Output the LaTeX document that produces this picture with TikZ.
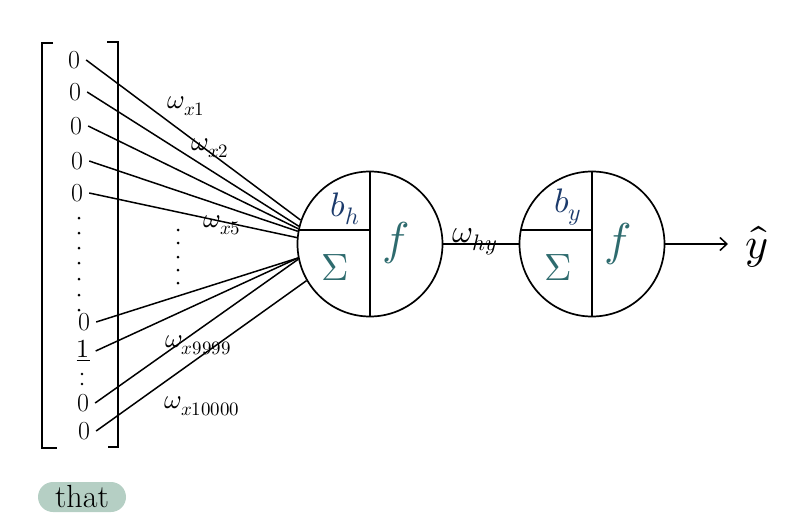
\documentclass[tikz,border=0pt]{standalone}
\usepackage{unicode-math}
\usetikzlibrary{arrows.meta,calc}
\definecolor{navy}{HTML}{1B3A6B}
\definecolor{teal2}{HTML}{2E6B6E}
\definecolor{pill}{HTML}{B5CFC4}
\tikzset{
  entry/.style={font=\fontsize{26}{26}\selectfont, inner xsep=6pt, inner ysep=0pt},
  wlab/.style={font=\fontsize{27}{27}\selectfont, inner sep=0pt},
  neuron/.style={circle, draw, line width=1.7pt, minimum size=145pt, inner sep=0pt},
  wire/.style={line width=1.5pt},
  bias/.style={text=navy, font=\fontsize{34}{34}\selectfont, inner sep=0pt},
  func/.style={text=teal2, font=\fontsize{46}{46}\selectfont, inner sep=0pt},
  sigm/.style={text=teal2, font=\fontsize{38}{38}\selectfont, inner sep=0pt},
  dotmark/.style={fill=black, circle, inner sep=0pt, minimum size=3pt}
}
\begin{document}
\begin{tikzpicture}[x=1pt,y=-1pt]
\useasboundingbox (0,0) rectangle (800,527);
% brackets
\draw[line width=1.7pt] (53,43) -- (42,43) -- (42,448) -- (57,448);
\draw[line width=1.7pt] (107,42) -- (118,42) -- (118,447) -- (108,447);
% entries
\node[entry] (e1) at (74,60) {0};
\node[entry] (e2) at (75,92) {0};
\node[entry] (e3) at (76,126) {0};
\node[entry] (e4) at (77,161) {0};
\node[entry] (e5) at (77,193) {0};
\node[entry] (e6) at (84,322) {0};
\node[entry] (e7) at (83,351) {$\underline{1}$};
\node[entry] (e8) at (83,403) {0};
\node[entry] (e9) at (84,431) {0};
% vertical dots
\foreach \y [count=\i] in {218,233,248,263,279,295,310}
  \node[dotmark] (vd\i) at (79,\y) {};
\node[dotmark, minimum size=2.6pt] (c1) at (82,374) {};
\node[dotmark, minimum size=2.6pt] (c2) at (82,384) {};
\foreach \y [count=\i] in {230,243,257,270,283}
  \node[dotmark] (md\i) at (178,\y) {};
% neurons
\node[neuron] (h) at (370,244) {};
\node[neuron] (o) at (592,244) {};
\draw[line width=1.7pt] (h.north) -- (h.south);
\draw[line width=1.7pt] (h.169) -- (h.169 -| h.north);
\draw[line width=1.7pt] (o.north) -- (o.south);
\draw[line width=1.7pt] (o.169) -- (o.169 -| o.north);
\node[bias] (bh) at (345,209) {$b_h$};
\node[sigm] (sh) at (335,268) {$\Sigma$};
\node[func] (fh) at (396,243) {$f$};
\node[bias] (by) at (568,207) {$b_y$};
\node[sigm] (sy) at (558,268) {$\Sigma$};
\node[func] (fy) at (618,244) {$f$};
% input wires
\draw[wire] (e1.east) -- (h.161);
\draw[wire] (e2.east) -- (h.166);
\draw[wire] (e3.east) -- (h.168);
\draw[wire] (e4.east) -- (h.170);
\draw[wire] (e5.east) -- (h.175);
\draw[wire] (e6.east) -- (h.191);
\draw[wire] (e7.east) -- (h.191);
\draw[wire] (e8.east) -- (h.192);
\draw[wire] (e9.east) -- (h.210);
% weight labels
\node[wlab] (w1) at (186,106) {$\omega_{x1}$};
\node[wlab] (w2) at (210,148) {$\omega_{x2}$};
\node[wlab] (w5) at (222,225) {$\omega_{x5}$};
\node[wlab] (w9) at (198,345) {$\omega_{x9999}$};
\node[wlab] (w10) at (202,406) {$\omega_{x10000}$};
% hidden to output
\draw[wire] (h.east) -- (o.west);
\node[font=\fontsize{32}{32}\selectfont, inner sep=0pt] (why) at (475,242) {$\omega_{hy}$};
% output
\coordinate (aend) at (728,244);
\node[font=\fontsize{44}{44}\selectfont, inner sep=0pt] (yhat) at (757,247) {$\hat{y}$};
\draw[wire, -{Straight Barb[length=7pt,width=13pt,line width=1.5pt]}] (o.east) -- (aend);
% pill
\node[fill=pill, rounded corners=15pt, minimum width=88pt, minimum height=30pt, inner sep=0pt,
      font=\fontsize{32}{32}\selectfont] (that) at (82,497) {that};
\end{tikzpicture}
\end{document}
